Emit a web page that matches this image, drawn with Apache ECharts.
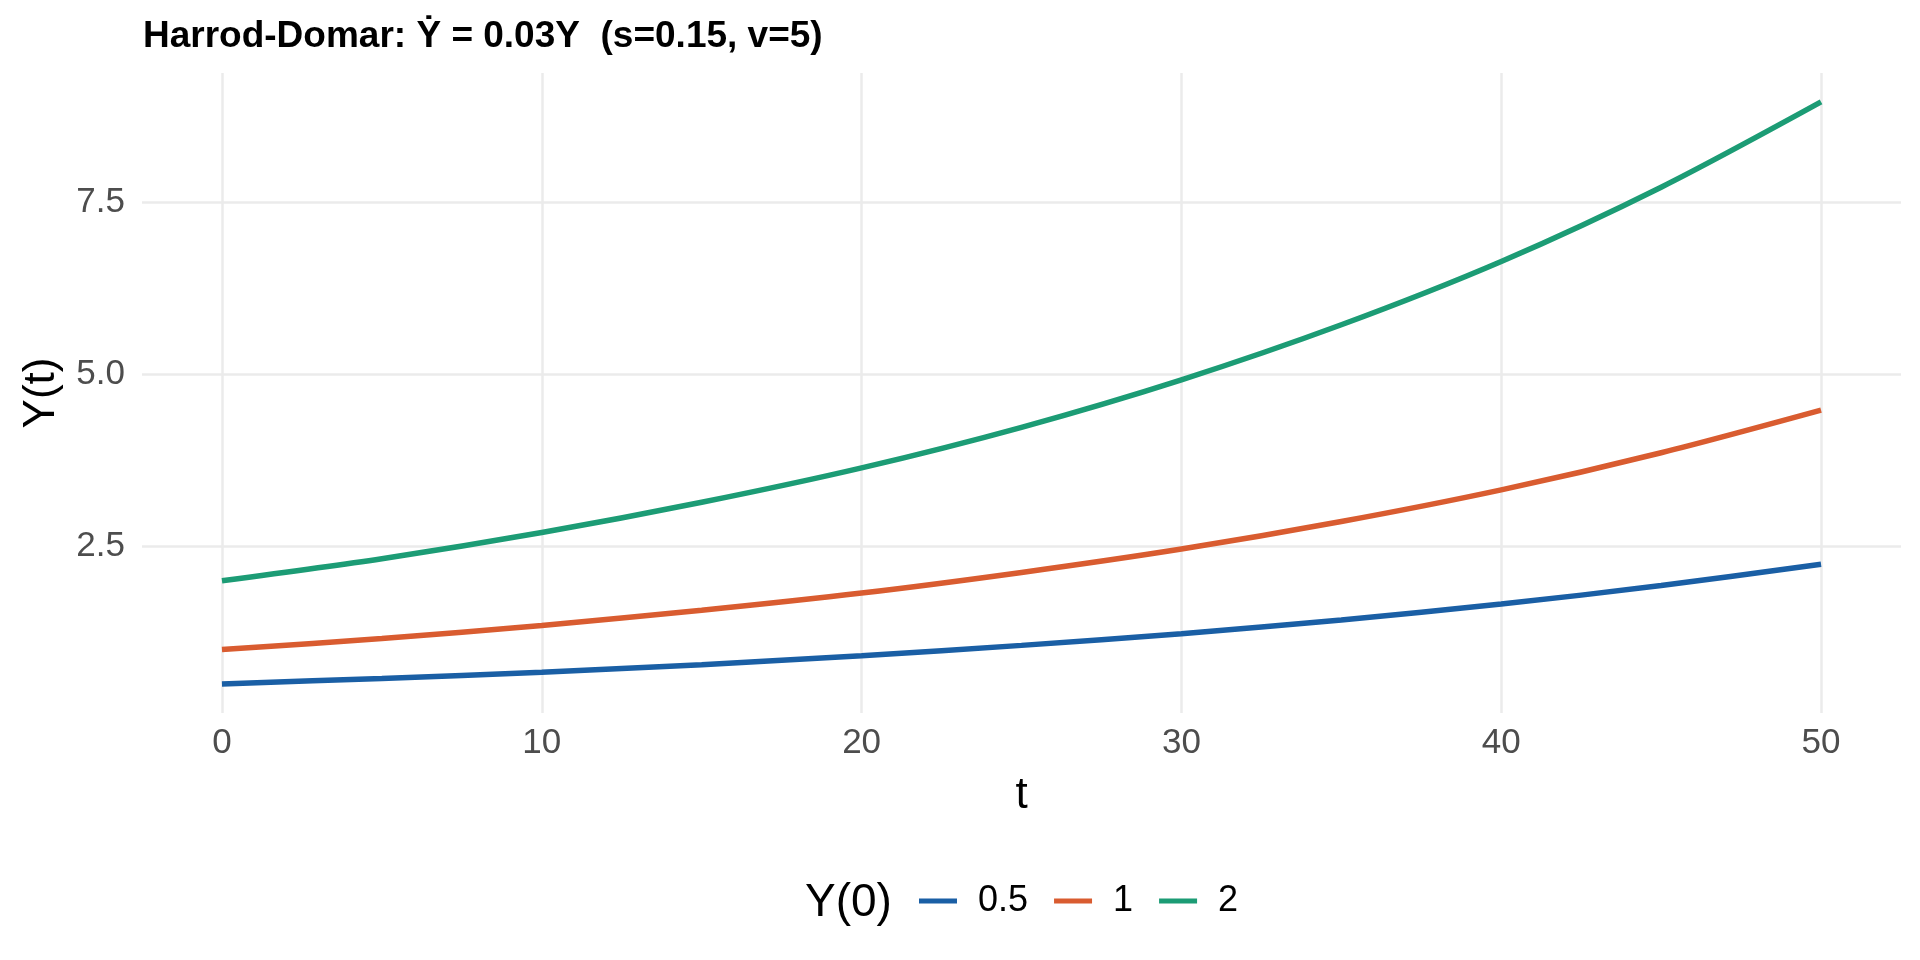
<!DOCTYPE html>
<html>
<head>
<meta charset="utf-8">
<title>Harrod-Domar</title>
<script src="https://cdn.jsdelivr.net/npm/echarts@6/dist/echarts.min.js"></script>
<style>
  html, body { margin: 0; padding: 0; background: #fff; }
  #chart { width: 1920px; height: 960px; }
</style>
</head>
<body>
<div id="chart"></div>
<script>
// values
const tValues = [0, 5, 10, 15, 20, 25, 30, 35, 40, 45, 50];
const yStartHalf = [0.50, 0.58, 0.67, 0.78, 0.91, 1.06, 1.23, 1.43, 1.66, 1.93, 2.24];
const yStartOne = [1.00, 1.16, 1.35, 1.57, 1.82, 2.12, 2.46, 2.86, 3.32, 3.86, 4.48];
const yStartTwo = [2.00, 2.32, 2.70, 3.14, 3.64, 4.23, 4.92, 5.72, 6.64, 7.72, 8.96];
const seriesNames = ['0.5', '1', '2'];
const xTicks = [0, 10, 20, 30, 40, 50];
const yTicks = [2.5, 5, 7.5];

const colors = ['#1A5FA5', '#D95C30', '#1C9C75'];
const font = '"Liberation Sans", Arial, sans-serif';

// pairs for the value x axis
function toPairs(ys) {
    return tValues.map((t, i) => [t, ys[i]]);
}

const chart = echarts.init(document.getElementById('chart'));

const series = [yStartHalf, yStartOne, yStartTwo].map((ys, i) => ({
    name: seriesNames[i],
    type: 'line',
    data: toPairs(ys),
    smooth: 0.3,
    showSymbol: false,
    symbol: 'none',
    lineStyle: { width: 5.5, color: colors[i] },
    itemStyle: { color: colors[i] },
    z: 3 + i
}));

chart.setOption({
    animation: false,
    backgroundColor: '#ffffff',
    title: [
        {
            text: 'Harrod-Domar: Ẏ = 0.03Y  (s=0.15, v=5)',
            left: 143,
            top: 18,
            padding: 0,
            textStyle: { fontFamily: font, fontSize: 37, fontWeight: 'bold', color: '#000' }
        },
        {
            text: 'Y(0)',
            left: 805,
            top: 880,
            padding: 0,
            textStyle: { fontFamily: font, fontSize: 46, fontWeight: 'normal', color: '#000' }
        }
    ],
    legend: {
        left: 919,
        top: 883,
        padding: 0,
        itemWidth: 38,
        itemHeight: 5,
        itemGap: 26,
        icon: 'rect',
        data: seriesNames,
        textStyle: { fontFamily: font, fontSize: 36, color: '#000', padding: [0, 0, 0, 16] }
    },
    grid: { left: 142, right: 19, top: 73, bottom: 247, outerBoundsMode: 'none', containLabel: false },
    xAxis: {
        type: 'value',
        min: -2.5,
        max: 52.5,
        name: 't',
        nameLocation: 'middle',
        nameGap: 61,
        nameTextStyle: { fontFamily: font, fontSize: 44, color: '#000' },
        axisLine: { show: false },
        axisTick: { show: false, customValues: xTicks },
        axisLabel: {
            customValues: xTicks,
            margin: 13,
            fontFamily: font,
            fontSize: 35,
            color: '#4D4D4D'
        },
        splitLine: { show: true, lineStyle: { color: '#EBEBEB', width: 2.5 } }
    },
    yAxis: {
        type: 'value',
        min: 0.077,
        max: 9.38,
        name: 'Y(t)',
        nameLocation: 'middle',
        nameGap: 78,
        nameRotate: 90,
        nameTextStyle: { fontFamily: font, fontSize: 44, color: '#000' },
        axisLine: { show: false },
        axisTick: { show: false, customValues: yTicks },
        axisLabel: {
            customValues: yTicks,
            margin: 17,
            fontFamily: font,
            fontSize: 35,
            color: '#4D4D4D',
            formatter: v => v.toFixed(1)
        },
        splitLine: { show: true, lineStyle: { color: '#EBEBEB', width: 2.5 } }
    },
    series: series
});
</script>
</body>
</html>
